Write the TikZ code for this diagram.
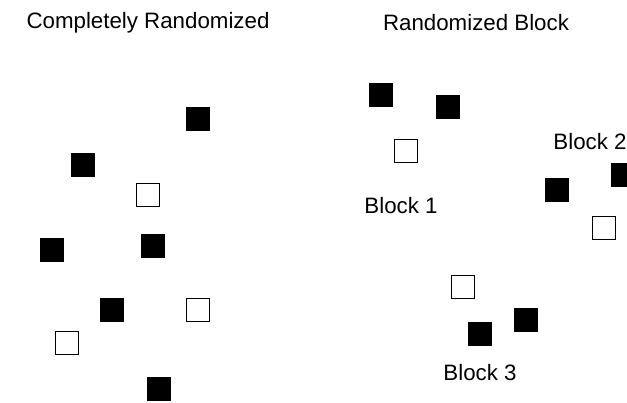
\documentclass[tikz,border=0pt]{standalone}
\usepackage{fontspec}
\setmainfont{Liberation Sans}
\begin{document}
\begin{tikzpicture}[x=1pt,y=-1pt,
  sq/.style={draw=black,line width=1.2pt,minimum size=22.5pt,inner sep=0pt},
  blk/.style={sq,fill=black},
  wht/.style={sq,fill=white},
  lbl/.style={font=\fontsize{22.3}{26}\selectfont,inner sep=0pt}]
\useasboundingbox (0,0) rectangle (627,402);
\clip (0,0) rectangle (627,402);
% titles
\node[lbl] (t1) at (148,23) {Completely Randomized};
\node[lbl] (t2) at (476,23) {Randomized Block};
% completely randomized
\node[blk] (c1) at (198,119) {};
\node[blk] (c2) at (83,165) {};
\node[wht] (c3) at (148,195) {};
\node[blk] (c4) at (52,250) {};
\node[blk] (c5) at (153,246) {};
\node[blk] (c6) at (112,310) {};
\node[wht] (c7) at (198,310) {};
\node[wht] (c8) at (67,343) {};
\node[blk] (c9) at (159,389) {};
% randomized block
\node[blk] (r1) at (381,95) {};
\node[blk] (r2) at (448,107) {};
\node[wht] (r3) at (406,151) {};
\node[lbl] (b1) at (401,206) {Block 1};
\node[lbl] (b2) at (590,142) {Block 2};
\node[blk] (r4) at (623,175) {};
\node[blk] (r5) at (557,190) {};
\node[wht] (r6) at (604,228) {};
\node[wht] (r7) at (463,287) {};
\node[blk] (r8) at (526,320) {};
\node[blk] (r9) at (480,334) {};
\node[lbl] (b3) at (480,373) {Block 3};
\end{tikzpicture}
\end{document}
